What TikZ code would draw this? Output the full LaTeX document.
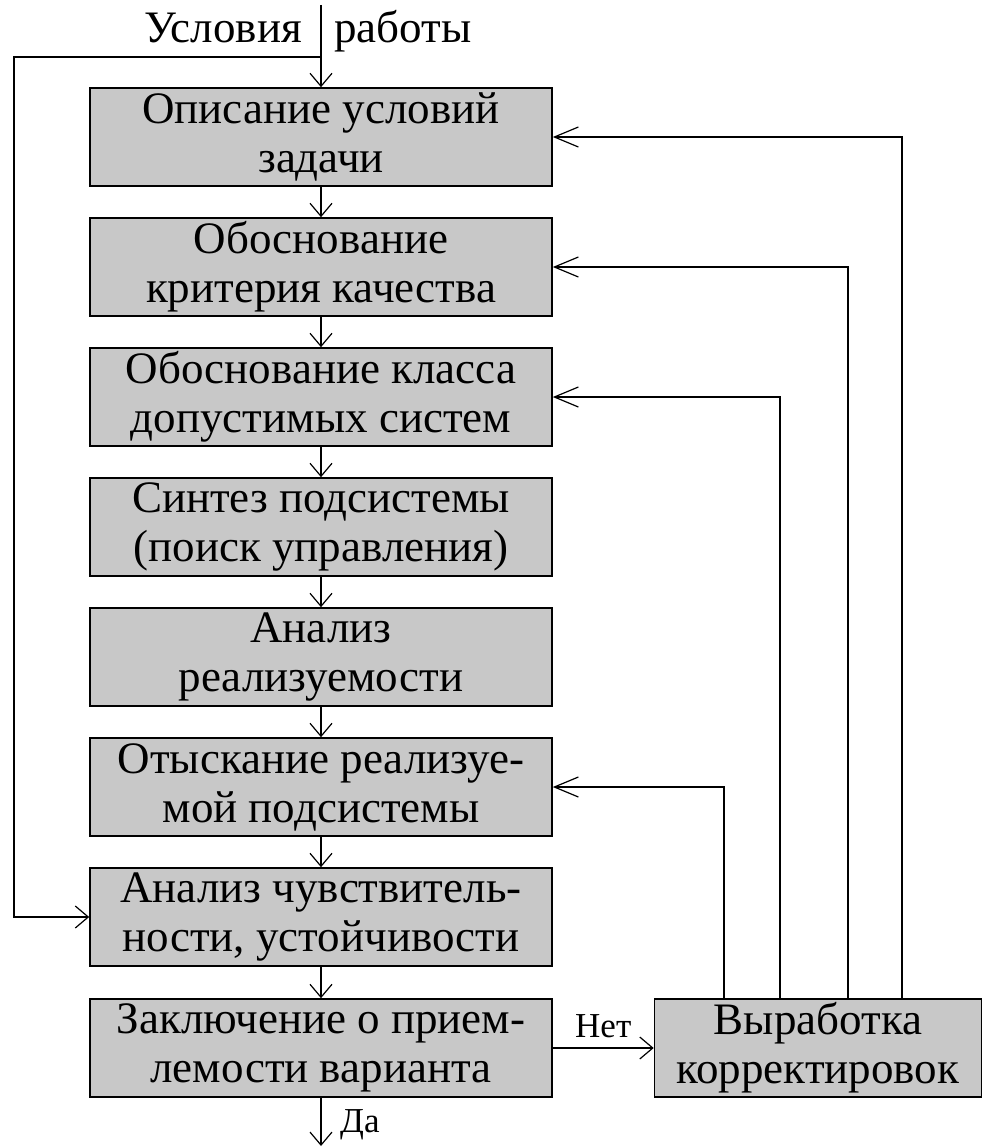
\documentclass[tikz,border=0pt]{standalone}
\usepackage{fontspec}
\setmainfont{Liberation Serif}
\usetikzlibrary{arrows.meta}
\definecolor{boxgray}{RGB}{200,200,200}

\begin{document}
\begin{tikzpicture}[x=1pt, y=-1pt,
    stage/.style={draw, fill=boxgray, line width=1.6pt, minimum width=462pt,
      minimum height=98pt, inner sep=0pt, align=center,
      font=\fontsize{45}{49}\selectfont},
    lbl/.style={inner sep=0pt, font=\fontsize{45}{49}\selectfont},
    small/.style={inner sep=0pt, font=\fontsize{35}{38}\selectfont},
    arr/.style={line width=1.6pt, -{Straight Barb[length=13pt, width=22pt, line width=1.2pt]}},
    fbarr/.style={line width=1.6pt, -{Straight Barb[length=24pt, width=20pt, line width=1.2pt]}}]
    \useasboundingbox (0,0) rectangle (982,1148);

    % MAIN COLUMN: the stages
    \node[stage] (cond)  at (321,137)  {Описание условий\\задачи};
    \node[stage] (crit)  at (321,267)  {Обоснование\\критерия качества};
    \node[stage] (cls)   at (321,397)  {Обоснование класса\\допустимых систем};
    \node[stage] (synth) at (321,527)  {Синтез подсистемы\\(поиск управления)};
    \node[stage] (feas)  at (321,657)  {Анализ\\реализуемости};
    \node[stage] (real)  at (321,787)  {Отыскание реализуе-\\мой подсистемы};
    \node[stage] (sens)  at (321,917)  {Анализ чувствитель-\\ности, устойчивости};
    \node[stage] (concl) at (321,1048) {Заключение о прием-\\лемости варианта};
    \foreach \a/\b in {cond/crit, crit/cls, cls/synth, synth/feas,
                       feas/real, real/sens, sens/concl}
        \draw[arr] (\a.south) -- (\b.north);

    % TOP: input and bypass to the sensitivity stage
    \coordinate (inp) at (321,5);
    \coordinate (split) at (321,57);
    \coordinate (lft) at (14,57);
    \node[lbl, anchor=base east] (uslov) at (302,43) {Условия};
    \node[lbl, anchor=base west] (rab) at (334,43) {работы};
    \draw[arr] (inp) -- (cond.north);
    \draw[arr] (split) -- (lft) |- (sens.west);

    % RIGHT: corrections and feedback
    \node[stage, minimum width=327pt] (corr) at (818,1048) {Выработка\\корректировок};
    \draw[arr] (concl.east) -- (corr.west)
        node[small, midway, above=9pt] (no) {Нет};
    \draw[fbarr] ([xshift=-94pt]corr.north) |- (real.east);
    \draw[fbarr] ([xshift=-38pt]corr.north) |- (cls.east);
    \draw[fbarr] ([xshift=30pt]corr.north) |- (crit.east);
    \draw[fbarr] ([xshift=84pt]corr.north) |- (cond.east);

    % BOTTOM: output
    \coordinate (out) at (321,1146);
    \draw[arr] (concl.south) -- (out);
    \node[small, anchor=base west] (yes) at (340,1132) {Да};
\end{tikzpicture}
\end{document}
